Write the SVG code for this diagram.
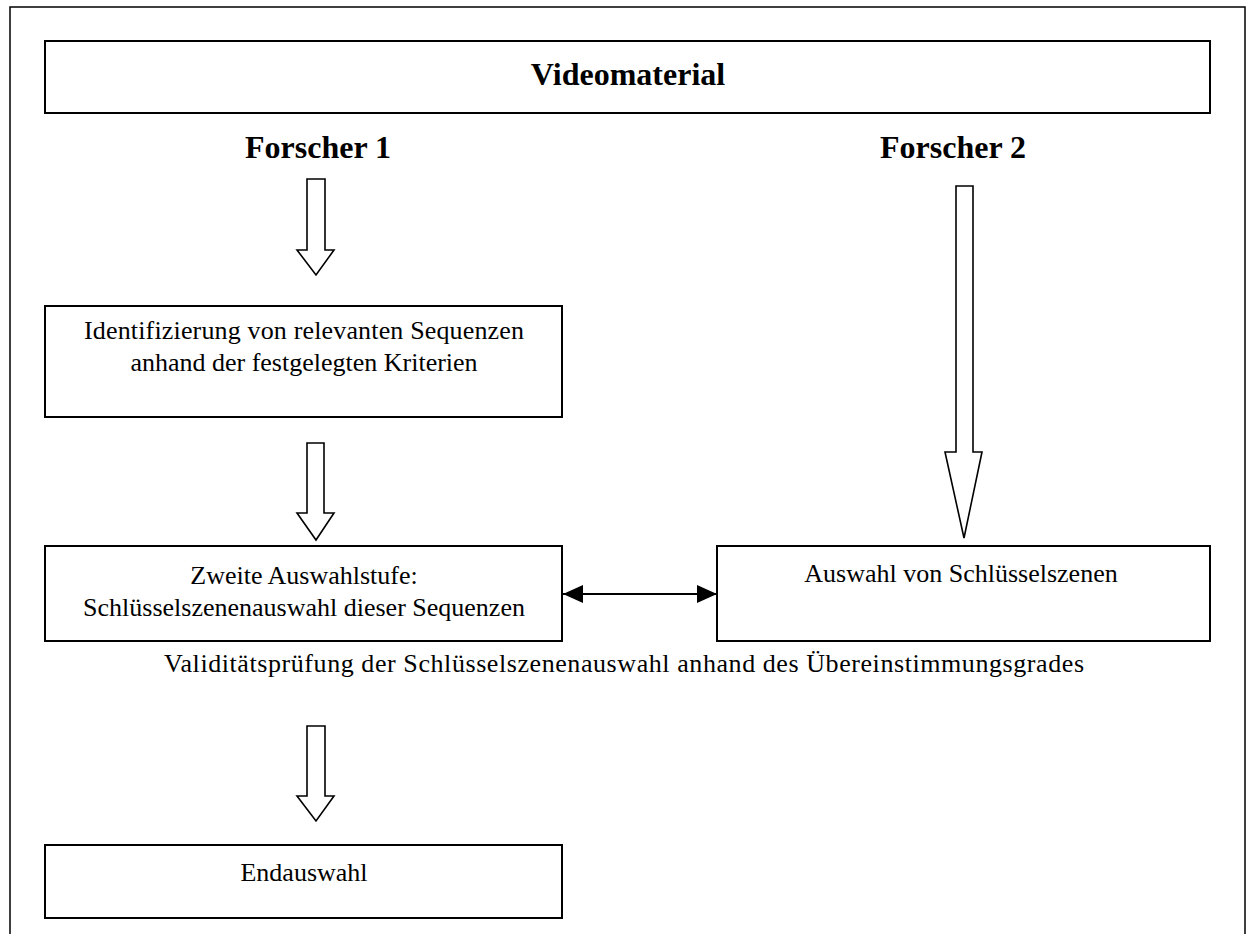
<svg xmlns="http://www.w3.org/2000/svg" width="1246" height="934" viewBox="0 0 1246 934">
  <style>
    .frame { fill: none; stroke: #000; stroke-width: 1.5; }
    .box { fill: #fff; stroke: #000; stroke-width: 2; }
    .hollow { fill: #fff; stroke: #000; stroke-width: 1.6; stroke-linejoin: miter; }
    .link { fill: none; stroke: #000; stroke-width: 2; }
    .title { font-family: "Liberation Serif", "Times New Roman", serif; font-weight: bold; font-size: 32px; text-anchor: middle; fill: #000; }
    .label { font-family: "Liberation Serif", "Times New Roman", serif; font-size: 26px; text-anchor: middle; fill: #000; }
  </style>
  <defs>
    <marker id="tri" viewBox="0 0 20 18" refX="20" refY="9" markerWidth="20" markerHeight="18" markerUnits="userSpaceOnUse" orient="auto-start-reverse">
      <path d="M0,0 L20,9 L0,18 Z" fill="#000"/>
    </marker>
  </defs>

  <rect width="1246" height="934" fill="#fff"/>
  <!-- outer frame, open at the bottom -->
  <path class="frame" d="M10,940 V7 H1245 V940"/>

  <g id="videomaterial">
    <rect class="box" x="45" y="41" width="1165" height="72"/>
    <text class="title" x="628" y="85">Videomaterial</text>
  </g>

  <g id="forscher1">
    <text class="title" x="318" y="158">Forscher 1</text>
  </g>

  <g id="forscher2">
    <text class="title" x="953" y="158">Forscher 2</text>
  </g>

  <g id="identifizierung">
    <rect class="box" x="45" y="306" width="517" height="111"/>
    <text class="label" x="304" y="339" textLength="440">Identifizierung von relevanten Sequenzen</text>
    <text class="label" x="304" y="371">anhand der festgelegten Kriterien</text>
  </g>

  <g id="zweite-auswahlstufe">
    <rect class="box" x="45" y="546" width="517" height="95"/>
    <text class="label" x="304" y="584">Zweite Auswahlstufe:</text>
    <text class="label" x="304" y="616">Schlüsselszenenauswahl dieser Sequenzen</text>
  </g>

  <g id="auswahl-schluesselszenen">
    <rect class="box" x="717" y="546" width="493" height="95"/>
    <text class="label" x="961" y="582">Auswahl von Schlüsselszenen</text>
  </g>

  <g id="validitaetspruefung">
    <text class="label" x="624" y="672" textLength="920">Validitätsprüfung der Schlüsselszenenauswahl anhand des Übereinstimmungsgrades</text>
  </g>

  <g id="endauswahl">
    <rect class="box" x="45" y="845" width="517" height="73"/>
    <text class="label" x="304" y="881">Endauswahl</text>
  </g>

  <g id="connectors">
    <!-- hollow block arrows -->
    <path class="hollow" d="M307,179 H325 V250 H334 L316,275 L297,250 H307 Z"/>
    <path class="hollow" d="M307,443 H324 V513 H334 L316,540 L297,513 H307 Z"/>
    <path class="hollow" d="M307,726 H325 V796 H334 L316,821 L297,796 H307 Z"/>
    <path class="hollow" d="M956,186 H973 V452 H982 L964,538 L945,452 H956 Z"/>
    <!-- comparison link between the two selections -->
    <line class="link" x1="563" y1="594" x2="717" y2="594" marker-start="url(#tri)" marker-end="url(#tri)"/>
  </g>
</svg>
